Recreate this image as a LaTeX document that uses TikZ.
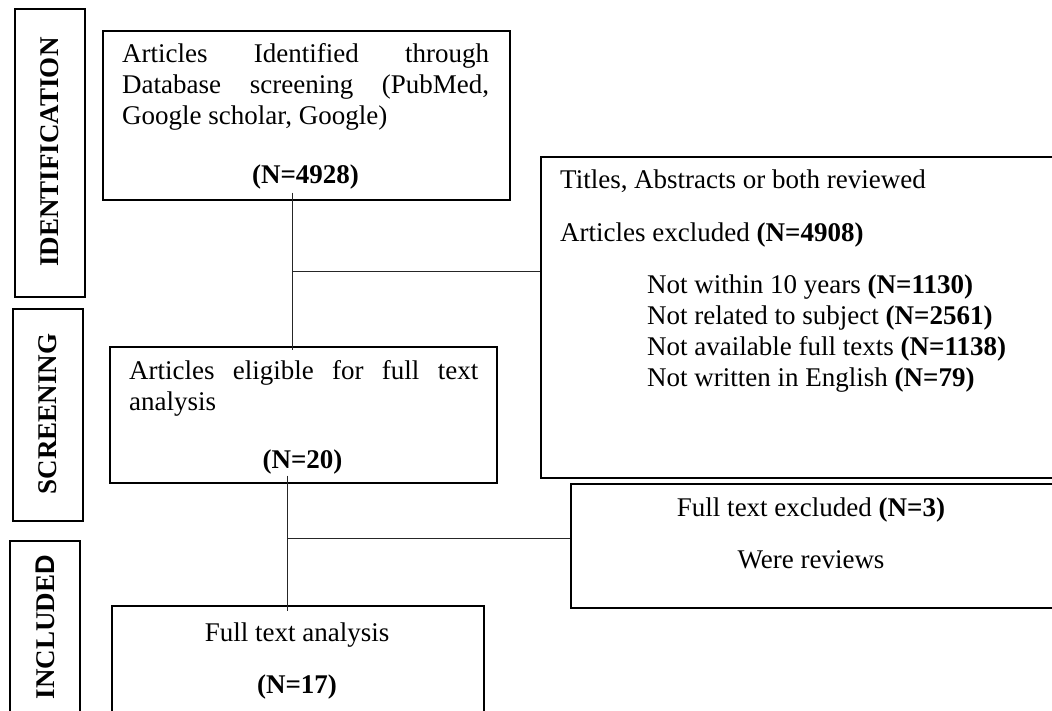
\documentclass[tikz,border=0pt]{standalone}
\usepackage{fontspec}
\setmainfont{Liberation Serif}
\newfontfamily\sansD{Liberation Sans}
\usetikzlibrary{calc}
\begin{document}
\begin{tikzpicture}[x=1pt,y=-1pt,
  boxst/.style={draw, line width=1.6pt, inner sep=0pt, anchor=north west},
  lbl/.style={inner sep=0pt, font=\fontsize{27}{30.7}\selectfont},
  stagelbl/.style={inner sep=0pt, rotate=90, font=\fontsize{27}{30.7}\selectfont\bfseries},
  conn/.style={draw=black!85, line width=1pt}]
\useasboundingbox (0,0) rectangle (1052,711);
\clip (0,0) rectangle (1052,711);

% stage boxes
\node[boxst, minimum width=70pt, minimum height=288pt] (sid) at (14,8) {};
\node[boxst, minimum width=70pt, minimum height=212pt] (ssc) at (12,308) {};
\node[boxst, minimum width=70pt, minimum height=180pt] (sin) at (9,540) {};
\node[stagelbl] (tid) at (50,152) {IDENTIFICATION};
\node[stagelbl] (tsc) at (48,414) {SCREENING};
\node[stagelbl] (tin) at (45,627) {INCLUDE{\sansD\bfseries D}};

% flow boxes
\node[boxst, minimum width=407pt, minimum height=169pt] (b1) at (102,30) {};
\node[boxst, minimum width=530pt, minimum height=321pt] (b2) at (540,156) {};
\node[boxst, minimum width=387pt, minimum height=136pt] (b3) at (109,346) {};
\node[boxst, minimum width=490pt, minimum height=124pt] (b4) at (570,483) {};
\node[boxst, minimum width=372pt, minimum height=120pt] (b5) at (111,605) {};

% box 1 text
\node[lbl, anchor=base west] (t1a) at (122,63) {\makebox[367pt][l]{Articles\hfill Identified\hfill through}};
\node[lbl, anchor=base west] (t1b) at (122,93.7) {\makebox[367pt][l]{Database\hfill screening\hfill (PubMed,}};
\node[lbl, anchor=base west] (t1c) at (122,124.4) {Google scholar, Google)};
\node[lbl, anchor=base] (t1d) at (305.5,184) {\textbf{(N=4928)}};

% box 2 text
\node[lbl, anchor=base west] (t2a) at (560,189) {Titles, Abstracts or both reviewed};
\node[lbl, anchor=base west] (t2b) at (560,242) {Articles excluded \textbf{(N=4908)}};
\node[lbl, anchor=base west] (t2c) at (647,294) {Not within 10 years \textbf{(N=1130)}};
\node[lbl, anchor=base west] (t2d) at (647,324.7) {Not related to subject \textbf{(N=2561)}};
\node[lbl, anchor=base west] (t2e) at (647,355.4) {Not available full texts \textbf{(N=1138)}};
\node[lbl, anchor=base west] (t2f) at (647,386.1) {Not written in English \textbf{(N=79)}};

% box 3 text
\node[lbl, anchor=base west] (t3a) at (129,379) {\makebox[349pt][l]{Articles\hfill eligible\hfill for\hfill full\hfill text}};
\node[lbl, anchor=base west] (t3b) at (129,410) {analysis};
\node[lbl, anchor=base] (t3c) at (302.5,468) {\textbf{(N=20)}};

% box 4 text
\node[lbl, anchor=base] (t4a) at (811,516) {Full text excluded \textbf{(N=3)}};
\node[lbl, anchor=base] (t4b) at (811,568) {Were reviews};

% box 5 text
\node[lbl, anchor=base] (t5a) at (297,641) {Full text analysis};
\node[lbl, anchor=base] (t5b) at (297,693) {\textbf{(N=17)}};

% connectors
\coordinate (j1) at (292,272);
\coordinate (j2) at (287,538);
\draw[conn] ([yshift=8pt]b1.south -| j1) -- ([yshift=-4pt]b3.north -| j1);
\draw[conn] (j1) -- (j1 -| b2.west);
\draw[conn] ([yshift=8pt]b3.south -| j2) -- ([yshift=-6pt]b5.north -| j2);
\draw[conn] (j2) -- (j2 -| b4.west);
\end{tikzpicture}
\end{document}
